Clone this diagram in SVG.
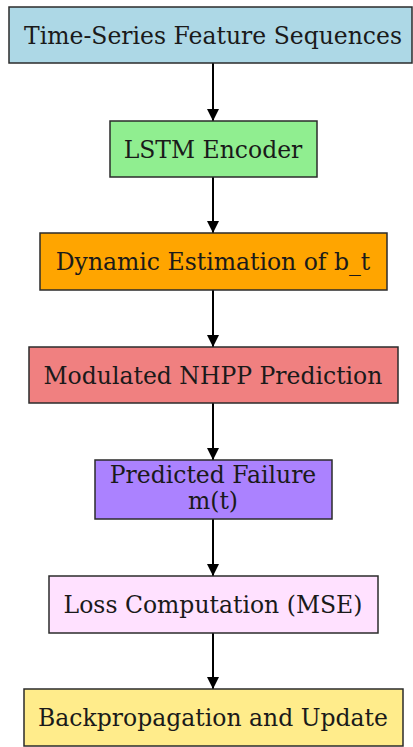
<svg xmlns="http://www.w3.org/2000/svg" width="413" height="747" viewBox="0 0 413 747">
<style>
.box{stroke:#2b2b2b;stroke-width:1.5}
.lbl{font-family:"DejaVu Serif",serif;font-size:23.5px;fill:#1a1a1a;text-anchor:middle}
.edge{stroke:#000;stroke-width:2;fill:none}
</style>
<defs>
<marker id="ah" viewBox="0 0 12 12" refX="12" refY="6" markerWidth="12" markerHeight="12" markerUnits="userSpaceOnUse" orient="auto">
<path d="M0,0 L12,6 L0,12 Z" fill="#000"/>
</marker>
</defs>
<rect width="413" height="747" fill="#fff"/>
<g id="edges">
<line class="edge" x1="213" y1="63" x2="213" y2="121" marker-end="url(#ah)"/>
<line class="edge" x1="213" y1="177" x2="213" y2="233" marker-end="url(#ah)"/>
<line class="edge" x1="213" y1="290" x2="213" y2="347" marker-end="url(#ah)"/>
<line class="edge" x1="213" y1="403" x2="213" y2="460" marker-end="url(#ah)"/>
<line class="edge" x1="213" y1="519" x2="213" y2="576" marker-end="url(#ah)"/>
<line class="edge" x1="213" y1="633" x2="213" y2="689" marker-end="url(#ah)"/>
</g>
<g id="n1"><rect class="box" x="9" y="7" width="403" height="56" fill="#add8e6"/><text class="lbl" x="213" y="43.5">Time-Series Feature Sequences</text></g>
<g id="n2"><rect class="box" x="110" y="121" width="207" height="56" fill="#90ee90"/><text class="lbl" x="213" y="157.5">LSTM Encoder</text></g>
<g id="n3"><rect class="box" x="40" y="233" width="347" height="57" fill="#ffa500"/><text class="lbl" x="213" y="270">Dynamic Estimation of b_t</text></g>
<g id="n4"><rect class="box" x="29" y="347" width="369" height="56" fill="#f08080"/><text class="lbl" x="213" y="383.5">Modulated NHPP Prediction</text></g>
<g id="n5"><rect class="box" x="95" y="460" width="237" height="59" fill="#ab82ff"/><text class="lbl" x="213" y="482.5">Predicted Failure</text><text class="lbl" x="213" y="509">m(t)</text></g>
<g id="n6"><rect class="box" x="49" y="576" width="329" height="57" fill="#ffe1ff"/><text class="lbl" x="213" y="613">Loss Computation (MSE)</text></g>
<g id="n7"><rect class="box" x="24" y="689" width="379" height="57" fill="#ffec8b"/><text class="lbl" x="213" y="726">Backpropagation and Update</text></g>
</svg>
